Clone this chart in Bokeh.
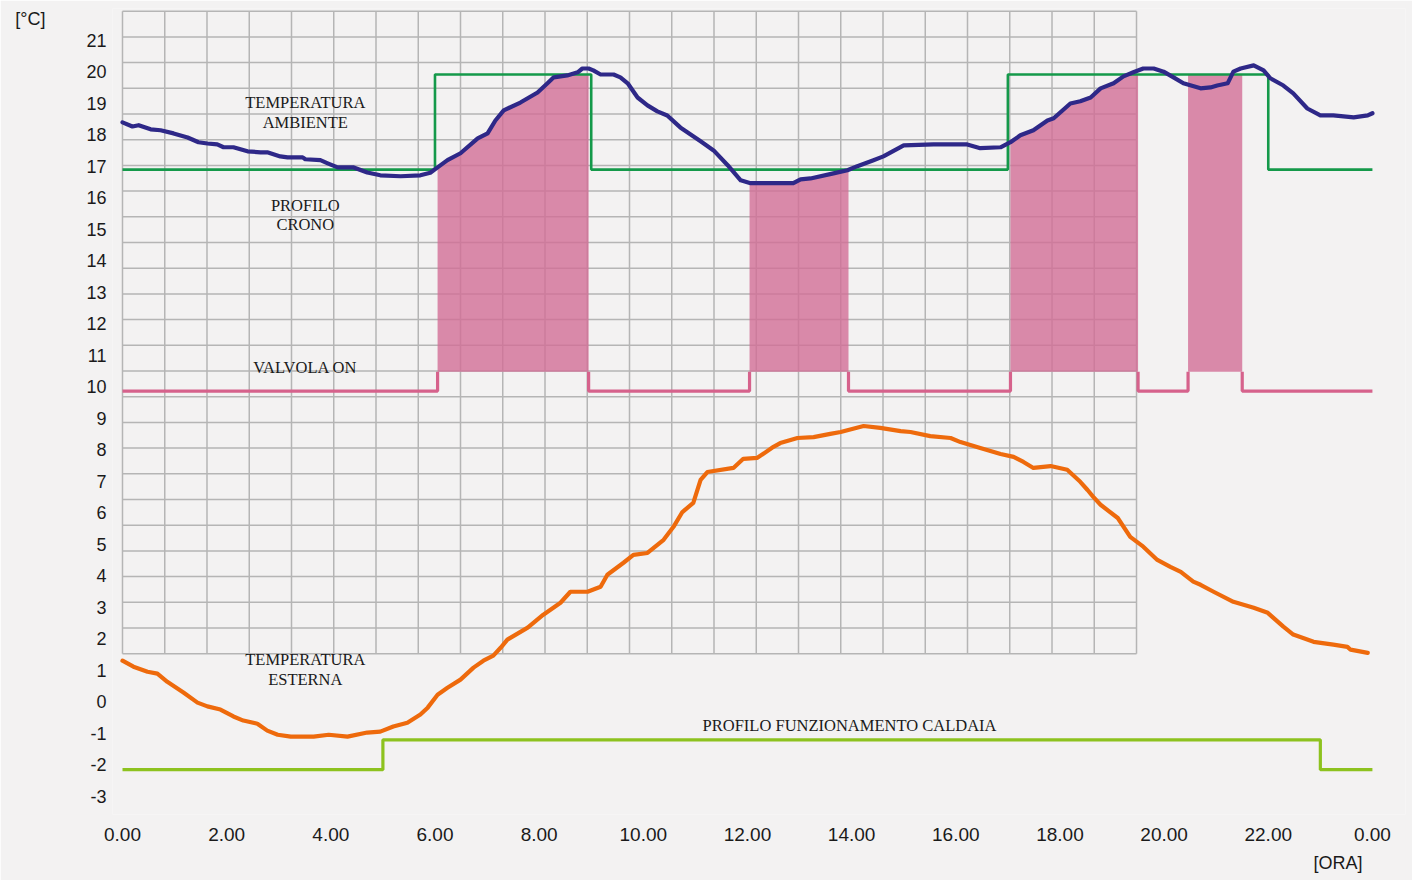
import numpy as np
from bokeh.plotting import figure
from bokeh.models import FixedTicker, Range1d, Title
from bokeh.embed import file_html
from bokeh.resources import INLINE
from bokeh.core.properties import value

# ---------------- data ----------------
# Temperatura ambiente (indoor)
amb_hour = [0, 0.19, 0.31, 0.54, 0.73, 0.98, 1.25, 1.46, 1.63, 1.82, 1.94, 2.13, 2.40, 2.65, 2.78,
            3.03, 3.17, 3.46, 3.51, 3.80, 3.94, 4.13, 4.44, 4.70, 4.95, 5.34, 5.72, 5.91, 6.05,
            6.24, 6.49, 6.82, 7.01, 7.16, 7.32, 7.64, 7.97, 8.16, 8.28, 8.54, 8.74, 8.83, 8.95,
            9.04, 9.18, 9.43, 9.56, 9.70, 9.89, 10.08, 10.27, 10.46, 10.71, 11.10, 11.35, 11.62,
            11.87, 12.06, 12.88, 13.02, 13.21, 13.65, 13.92, 14.11, 14.42, 14.61, 15.00, 15.57,
            16.22, 16.47, 16.86, 17.05, 17.24, 17.49, 17.76, 17.88, 18.07, 18.20, 18.39, 18.59,
            18.78, 19.03, 19.22, 19.41, 19.60, 19.80, 19.99, 20.18, 20.37, 20.70, 20.89, 21.02,
            21.22, 21.33, 21.47, 21.72, 21.91, 22.04, 22.29, 22.48, 22.75, 23.00, 23.25, 23.64,
            23.91, 24.00]
amb_temp = [18.40, 18.27, 18.31, 18.18, 18.15, 18.05, 17.92, 17.77, 17.73, 17.70, 17.61, 17.61,
            17.48, 17.45, 17.45, 17.32, 17.29, 17.29, 17.23, 17.20, 17.10, 16.97, 16.97, 16.81,
            16.72, 16.69, 16.72, 16.80, 16.97, 17.20, 17.42, 17.89, 18.05, 18.46, 18.78, 19.03,
            19.35, 19.64, 19.83, 19.89, 19.99, 20.11, 20.11, 20.05, 19.92, 19.92, 19.83, 19.64,
            19.19, 18.94, 18.75, 18.62, 18.24, 17.80, 17.51, 17.04, 16.56, 16.47, 16.47, 16.59,
            16.62, 16.78, 16.88, 17.01, 17.20, 17.32, 17.67, 17.70, 17.70, 17.58, 17.61, 17.77,
            17.99, 18.15, 18.46, 18.53, 18.81, 19.00, 19.07, 19.19, 19.48, 19.64, 19.86, 19.99,
            20.11, 20.11, 20.01, 19.83, 19.64, 19.48, 19.51, 19.57, 19.64, 20.01, 20.11, 20.21,
            20.05, 19.80, 19.57, 19.32, 18.84, 18.62, 18.62, 18.56, 18.62, 18.69]

# Temperatura esterna (outdoor)
ext_hour = [0, 0.21, 0.48, 0.67, 0.86, 1.17, 1.44, 1.63, 1.88, 2.13, 2.32, 2.59, 2.78, 2.98, 3.23,
            3.67, 3.96, 4.32, 4.70, 4.95, 5.20, 5.47, 5.72, 5.86, 6.05, 6.24, 6.49, 6.74, 6.93,
            7.12, 7.26, 7.39, 7.78, 8.08, 8.41, 8.60, 8.93, 9.18, 9.31, 9.62, 9.81, 10.08, 10.39,
            10.58, 10.75, 10.96, 11.10, 11.23, 11.73, 11.92, 12.19, 12.50, 12.63, 12.96, 13.27,
            13.59, 13.79, 14.23, 14.55, 14.94, 15.13, 15.51, 15.90, 16.09, 16.47, 16.86, 17.11,
            17.30, 17.49, 17.82, 18.14, 18.39, 18.53, 18.64, 18.78, 19.11, 19.35, 19.60, 19.87,
            20.12, 20.32, 20.56, 20.70, 20.95, 21.33, 21.72, 21.99, 22.29, 22.48, 22.87, 23.25,
            23.52, 23.58, 23.91]
ext_temp = [1.31, 1.12, 0.96, 0.90, 0.64, 0.30, -0.02, -0.14, -0.24, -0.46, -0.59, -0.69, -0.91,
            -1.04, -1.10, -1.10, -1.04, -1.10, -0.97, -0.94, -0.78, -0.66, -0.40, -0.18, 0.23,
            0.45, 0.71, 1.09, 1.31, 1.47, 1.72, 1.98, 2.36, 2.77, 3.15, 3.50, 3.50, 3.66, 4.04,
            4.42, 4.67, 4.73, 5.15, 5.56, 6.03, 6.32, 7.05, 7.30, 7.43, 7.72, 7.75, 8.10, 8.22,
            8.38, 8.41, 8.51, 8.57, 8.76, 8.70, 8.60, 8.57, 8.44, 8.38, 8.25, 8.06, 7.87, 7.78,
            7.62, 7.43, 7.49, 7.37, 6.99, 6.73, 6.51, 6.26, 5.84, 5.24, 4.93, 4.51, 4.29, 4.13,
            3.82, 3.72, 3.50, 3.18, 2.99, 2.83, 2.39, 2.14, 1.91, 1.82, 1.75, 1.66, 1.56]

# Profilo crono (setpoint), step levels
crono_hour = [0, 6.0, 6.0, 9.0, 9.0, 17.0, 17.0, 22.0, 22.0, 24.0]
crono_temp = [16.9, 16.9, 19.92, 19.92, 16.9, 16.9, 19.92, 19.92, 16.9, 16.9]
crono_high = 19.92

# Valvola ON periods
valve_start = [6.05, 12.04, 17.05, 20.46]
valve_end = [8.95, 13.94, 19.50, 21.50]
valve_fill_full = [False, False, False, True]
valve_off_level = 9.87
valve_on_level = 10.48

# Profilo funzionamento caldaia
boiler_hour = [0, 5.0, 5.0, 23.0, 23.0, 24.0]
boiler_temp = [-2.15, -2.15, -1.2, -1.2, -2.15, -2.15]

# Axis ticks
x_ticks = [0, 2, 4, 6, 8, 10, 12, 14, 16, 18, 20, 22, 24]
x_tick_labels = ["0.00", "2.00", "4.00", "6.00", "8.00", "10.00", "12.00", "14.00",
                 "16.00", "18.00", "20.00", "22.00", "0.00"]
y_ticks = list(range(-3, 22))
y_tick_labels = [str(v) for v in y_ticks]

# Annotation texts
note_text = ["TEMPERATURA", "AMBIENTE", "PROFILO", "CRONO", "VALVOLA ON",
             "TEMPERATURA", "ESTERNA", "PROFILO FUNZIONAMENTO CALDAIA"]
note_x = [3.51, 3.51, 3.51, 3.51, 3.51, 3.51, 3.51, 13.96]
note_y = [19.03, 18.40, 15.77, 15.17, 10.63, 1.34, 0.71, -0.75]

# ---------------- figure ----------------
BG = "#f3f2f2"
p = figure(width=1412, height=880,
           x_range=Range1d(-0.192, 24.635), y_range=Range1d(-3.572, 22.015),
           output_backend="svg", toolbar_location=None,
           min_border_left=112, min_border_right=7, min_border_top=8, min_border_bottom=65,
           background_fill_color=BG, border_fill_color=BG)
p.outline_line_color = None
p.xgrid.visible = False
p.ygrid.visible = False

# decorative grid (24 x 25 cells)
g_left, g_right = 0.0, 19.47
g_top, g_bottom = 21.93, 1.533
vx = np.linspace(g_left, g_right, 25)
hy = np.linspace(g_top, g_bottom, 26)
p.segment(x0=vx, y0=[g_bottom] * len(vx), x1=vx, y1=[g_top] * len(vx),
          line_color="#b5b5b5", line_width=1.5)
p.segment(x0=[g_left] * len(hy), y0=hy, x1=[g_right] * len(hy), y1=hy,
          line_color="#b5b5b5", line_width=1.5)

# valve fills (under the indoor curve, capped by the crono profile)
ah = np.array(amb_hour)
at = np.array(amb_temp)
for s, e, full in zip(valve_start, valve_end, valve_fill_full):
    xs = np.array([s] + [h for h in amb_hour if s < h < e] + [e])
    if full:
        top = np.full(len(xs), crono_high)
    else:
        top = np.minimum(np.interp(xs, ah, at), crono_high)
    p.varea(x=xs, y1=np.full(len(xs), valve_on_level), y2=top,
            fill_color="#d26e96", fill_alpha=0.8)

# valve line (OFF segments with risers)
bounds_start = [0.0] + valve_end
bounds_end = valve_start + [24.0]
vxs, vys = [], []
for i, (a, b) in enumerate(zip(bounds_start, bounds_end)):
    xs_, ys_ = [], []
    if i > 0:
        xs_.append(a); ys_.append(valve_on_level)
    xs_ += [a, b]; ys_ += [valve_off_level, valve_off_level]
    if i < len(valve_start):
        xs_.append(b); ys_.append(valve_on_level)
    vxs.append(xs_); vys.append(ys_)
p.multi_line(vxs, vys, line_color="#d6628c", line_width=3.2)

# crono profile
p.line(crono_hour, crono_temp, line_color="#14994a", line_width=2.6)
# indoor temperature
p.line(amb_hour, amb_temp, line_color="#2e2888", line_width=4.2, line_join="round", line_cap="round")
# outdoor temperature
p.line(ext_hour, ext_temp, line_color="#ee6a0c", line_width=4.2, line_join="round", line_cap="round")
# boiler profile
p.line(boiler_hour, boiler_temp, line_color="#8dc21f", line_width=3.2)

# annotations
p.text(x=note_x, y=note_y, text=note_text, text_align="center", text_baseline="middle",
       text_font=value("Liberation Serif"), text_font_size="16.5px", text_color="#1a1a1a")

# axes
p.xaxis.ticker = FixedTicker(ticks=x_ticks)
p.xaxis.major_label_overrides = {t: l for t, l in zip(x_ticks, x_tick_labels)}
p.yaxis.ticker = FixedTicker(ticks=y_ticks)
p.yaxis.major_label_overrides = {t: l for t, l in zip(y_ticks, y_tick_labels)}
for ax in (p.xaxis[0], p.yaxis[0]):
    ax.axis_line_color = None
    ax.major_tick_line_color = None
    ax.minor_tick_line_color = None
    ax.major_tick_out = 0
    ax.major_label_text_font = "Liberation Sans"
    ax.major_label_text_color = "#1a1a1a"
p.xaxis.major_label_text_font_size = "19px"
p.xaxis.major_label_standoff = 13
p.yaxis.major_label_text_font_size = "18px"
p.yaxis.major_label_standoff = 6

# unit labels
ya = p.yaxis[0]
ya.axis_label = "\n[°C]"
ya.axis_label_text_font = "Liberation Sans"
ya.axis_label_text_font_size = "18px"
ya.axis_label_text_font_style = "normal"
ya.axis_label_text_color = "#1a1a1a"
ya.axis_label_text_line_height = 1.0
ya.axis_label_standoff = 38
try:
    ya.axis_label_orientation = "horizontal"
    ya.axis_label_align = "end"
except Exception:
    pass

p.add_layout(Title(text="[ORA]", align="right", offset=43, text_font="Liberation Sans",
                   text_font_size="18px", text_font_style="normal", text_color="#1a1a1a",
                   standoff=15), "below")

open("out.html", "w").write(file_html(p, INLINE))
